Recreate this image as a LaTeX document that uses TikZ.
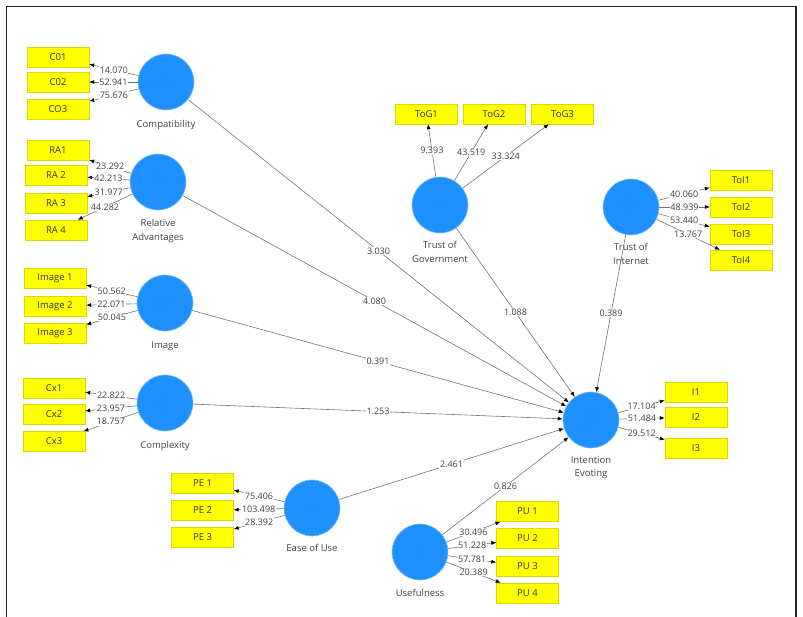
\documentclass[tikz,border=0pt]{standalone}
\usepackage{fontspec}
\setmainfont{Open Sans}
\usetikzlibrary{arrows.meta, positioning}
\definecolor{lvblue}{RGB}{30,144,255}
\definecolor{indyellow}{RGB}{255,255,0}
\definecolor{pathgray}{RGB}{115,115,115}
\definecolor{txtgray}{RGB}{65,65,65}

\begin{document}
\begin{tikzpicture}[x=1pt, y=-1pt,
  latent/.style={circle, fill=lvblue, draw=lvblue!55, line width=0.6pt, minimum size=56pt, inner sep=0pt},
  indicator/.style={rectangle, fill=indyellow, draw=indyellow!85!black, line width=0.4pt,
    minimum width=62pt, minimum height=20pt, inner sep=0pt, font=\fontsize{9.5}{11}\selectfont, text=black!80},
  lvname/.style={text=txtgray, align=center, inner sep=1pt, font=\fontsize{9.5}{13.5}\selectfont},
  weight/.style={fill=white, inner sep=0.6pt, text=txtgray, font=\fontsize{9}{10}\selectfont},
  link/.style={draw=pathgray, line width=0.6pt, -{Latex[length=5pt, width=4pt, color=black]}}]

  \useasboundingbox (0,0) rectangle (803,617);

  % frame
  \draw[line width=1.5pt, black!85] (6.5,617) -- (6.5,6.5) -- (796,6.5);
  \draw[line width=2.5pt, black!85] (796,6.5) -- (796,617);

  % latent variables
  \node[latent] (comp)   at (166,82)  {};
  \node[latent] (ra)     at (158,182) {};
  \node[latent] (img)    at (165,303) {};
  \node[latent] (cplx)   at (165,403) {};
  \node[latent] (ease)   at (312,508) {};
  \node[latent] (useful) at (420,552) {};
  \node[latent] (tog)    at (440,205) {};
  \node[latent] (toi)    at (631,207) {};
  \node[latent] (ie)     at (591,420) {};

  % names below the circles
  \node[lvname, below=9pt of comp]   (compname)   {Compatibility};
  \node[lvname, below=8pt of ra]     (raname)     {Relative\\Advantages};
  \node[lvname, below=9pt of img]    (imgname)    {Image};
  \node[lvname, below=9pt of cplx]   (cplxname)   {Complexity};
  \node[lvname, below=7pt of ease]   (easename)   {Ease of Use};
  \node[lvname, below=8pt of useful] (usefulname) {Usefulness};
  \node[lvname, below=7pt of tog]    (togname)    {Trust of\\Government};
  \node[lvname, below=7pt of toi]    (toiname)    {Trust of\\Internet};
  \node[lvname, below=7pt of ie]     (iename)     {Intention\\Evoting};

  % indicators
  \foreach \nm/\txt/\x/\y in {
      c1/C01/58/57, c2/C02/58/82, c3/CO3/58/109,
      ra1/RA1/58/150, ra2/RA 2/56/175, ra3/RA 3/56/203, ra4/RA 4/56/230,
      im1/Image 1/55/278, im2/Image 2/55/306, im3/Image 3/55/333,
      cx1/Cx1/54/388, cx2/Cx2/54/414, cx3/Cx3/54/441.5,
      pe1/PE 1/202.5/483, pe2/PE 2/202.5/510.5, pe3/PE 3/202.5/537.5,
      pu1/PU 1/527.5/511.5, pu2/PU 2/527.5/538.5, pu3/PU 3/527.5/566.5, pu4/PU 4/527.5/593,
      tg1/ToG1/426.5/114, tg2/ToG2/494/114, tg3/ToG3/562.5/114,
      ti1/ToI1/741/180, ti2/ToI2/741/207, ti3/ToI3/741/234.5, ti4/ToI4/741/260,
      i1/I1/696/392, i2/I2/696/417, i3/I3/696/448}
    \node[indicator] (\nm) at (\x,\y) {\txt};

  % outer loadings
  \foreach \lv/\ind/\val in {
      comp/c1/14.070, comp/c2/52.941, comp/c3/75.676,
      ra/ra1/23.292, ra/ra2/42.213, ra/ra3/31.977, ra/ra4/44.282,
      img/im1/50.562, img/im2/22.071, img/im3/50.045,
      cplx/cx1/22.822, cplx/cx2/23.957, cplx/cx3/18.757,
      ease/pe1/75.406, ease/pe2/103.498, ease/pe3/28.392,
      useful/pu1/30.496, useful/pu2/51.228, useful/pu3/57.781, useful/pu4/20.389,
      tog/tg1/9.393, tog/tg2/43.519, tog/tg3/33.324,
      toi/ti1/40.060, toi/ti2/48.939, toi/ti3/53.440, toi/ti4/13.767,
      ie/i1/17.104, ie/i2/51.484, ie/i3/29.512}
    \draw[link] (\lv) -- node[weight] {\val} (\ind);

  % inner model
  \foreach \lv/\val in {comp/3.030, ra/4.080, img/0.391, cplx/1.253,
      ease/2.461, useful/0.826, tog/1.088, toi/0.389}
    \draw[link] (\lv) -- node[weight] {\val} (ie);
\end{tikzpicture}
\end{document}
